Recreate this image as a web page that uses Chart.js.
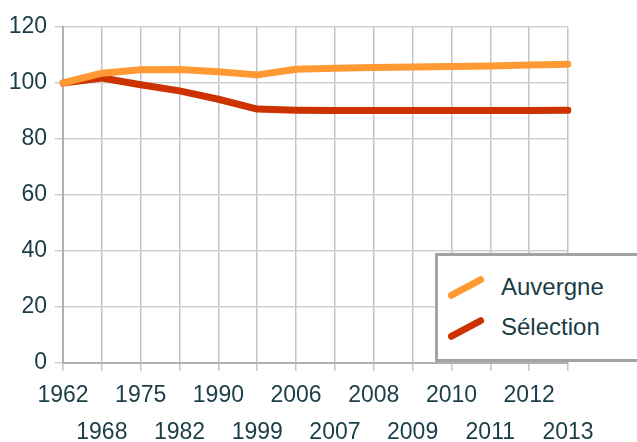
<!DOCTYPE html>
<html>
<head>
<meta charset="utf-8">
<script src="https://cdn.jsdelivr.net/npm/chart.js"></script>
<style>
  body { margin: 0; background: #fff; }
  #wrap { position: relative; width: 637px; height: 442px; overflow: hidden; }
  #legendBox { position: absolute; left: 435px; top: 253px; width: 240px; height: 103px;
    border: 3px solid #a3a3a3; background: #fff; }
  .sw { position: absolute; width: 40px; height: 7px; border-radius: 4px; transform: rotate(-28deg); }
  .lab { position: absolute; left: 501px; font: 24px "Liberation Sans", Arial, sans-serif; color: #1b3d47; line-height: 24px; }
</style>
</head>
<body>
<div id="wrap">
  <canvas id="myChart" width="637" height="442"></canvas>
  <div id="legendBox"></div>
  <div class="sw" style="left:446px;top:284px;background:#ff9933"></div>
  <div class="lab" style="top:275px">Auvergne</div>
  <div class="sw" style="left:446px;top:325px;background:#cc3300"></div>
  <div class="lab" style="top:315px">Sélection</div>
</div>
<script>
// data (index, base 100 in 1962)
const years = ['1962', '1968', '1975', '1982', '1990', '1999', '2006', '2007', '2008', '2009', '2010', '2011', '2012', '2013'];
const auvergne = [100, 103.5, 104.7, 104.8, 104.0, 102.9, 104.9, 105.3, 105.5, 105.7, 105.9, 106.1, 106.4, 106.7];
const selection = [100, 101.8, 99.4, 97.2, 94.2, 90.7, 90.3, 90.2, 90.2, 90.2, 90.2, 90.2, 90.2, 90.3];
const yTicks = [0, 20, 40, 60, 80, 100, 120];

const textColor = '#1b3d47';
const fontFamily = '"Liberation Sans", Arial, sans-serif';

const ctx = document.getElementById('myChart').getContext('2d');
new Chart(ctx, {
  type: 'line',
  data: {
    labels: years,
    datasets: [
      { label: 'Auvergne', data: auvergne, borderColor: '#ff9933', backgroundColor: '#ff9933',
        borderWidth: 7, pointRadius: 0, tension: 0, borderCapStyle: 'round', borderJoinStyle: 'round' },
      { label: 'Sélection', data: selection, borderColor: '#cc3300', backgroundColor: '#cc3300',
        borderWidth: 7, pointRadius: 0, tension: 0, borderCapStyle: 'round', borderJoinStyle: 'round' }
    ]
  },
  options: {
    responsive: false,
    animation: false,
    layout: { padding: { top: 27, right: 69, left: 0, bottom: 0 } },
    plugins: { legend: { display: false }, tooltip: { enabled: false } },
    scales: {
      x: {
        offset: false,
        grid: { color: '#c4c4c4', lineWidth: 1.5, tickLength: 8, drawTicks: true },
        border: { color: '#b0b0b0', width: 2 },
        ticks: {
          autoSkip: false, maxRotation: 0, minRotation: 0, padding: 6,
          color: textColor, font: { family: fontFamily, size: 23, lineHeight: 1.6 },
          callback: (v, i) => i % 2 === 0 ? [years[i]] : ['', years[i]]
        },
        afterFit: s => { s.height = 79; }
      },
      y: {
        min: 0, max: 120,
        afterBuildTicks: s => { s.ticks = yTicks.map(v => ({ value: v })); },
        grid: { color: '#cfcfcf', lineWidth: 1.5, tickLength: 8 },
        border: { color: '#b0b0b0', width: 2 },
        ticks: { color: textColor, padding: 8, font: { family: fontFamily, size: 23 } },
        afterFit: s => { s.width = 63; }
      }
    }
  }
});
</script>
</body>
</html>
